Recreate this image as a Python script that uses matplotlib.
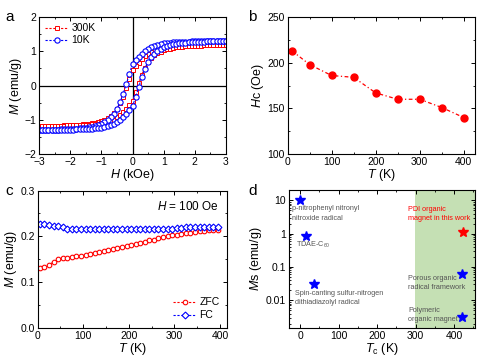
import numpy as np
import matplotlib
matplotlib.use("Agg")
import matplotlib.pyplot as plt
from matplotlib.ticker import MultipleLocator, FixedLocator, FixedFormatter, NullFormatter

plt.rcParams['font.family'] = ['Liberation Sans', 'DejaVu Sans']
plt.rcParams['mathtext.fontset'] = 'custom'
plt.rcParams['mathtext.it'] = 'Liberation Sans:italic'
plt.rcParams['mathtext.rm'] = 'Liberation Sans'

# ---- panel a: M-H loops (field sweep grid, kOe)
H = [-3.0, -2.9, -2.8, -2.7, -2.6, -2.5, -2.4, -2.3, -2.2, -2.1, -2.0, -1.9, -1.8, -1.7, -1.6,
     -1.5, -1.4, -1.3, -1.2, -1.1, -1.0, -0.9, -0.8, -0.7, -0.6, -0.5, -0.4, -0.3, -0.2, -0.1,
     0.0, 0.1, 0.2, 0.3, 0.4, 0.5, 0.6, 0.7, 0.8, 0.9, 1.0, 1.1, 1.2, 1.3, 1.4, 1.5, 1.6, 1.7,
     1.8, 1.9, 2.0, 2.1, 2.2, 2.3, 2.4, 2.5, 2.6, 2.7, 2.8, 2.9, 3.0]

M10_up = [-1.30, -1.30, -1.31, -1.30, -1.30, -1.30, -1.30, -1.29, -1.30, -1.29, -1.29, -1.29, -1.28,
          -1.28, -1.28, -1.27, -1.27, -1.26, -1.25, -1.24, -1.23, -1.21, -1.19, -1.16, -1.12, -1.07,
          -1.00, -0.92, -0.83, -0.72, -0.60, -0.34, -0.04, 0.24, 0.48, 0.68, 0.83, 0.93, 1.01, 1.07,
          1.12, 1.15, 1.18, 1.20, 1.22, 1.23, 1.24, 1.25, 1.26, 1.26, 1.27, 1.27, 1.28, 1.28, 1.29,
          1.29, 1.29, 1.30, 1.30, 1.30, 1.30]
M10_down = [-1.30, -1.30, -1.30, -1.30, -1.29, -1.29, -1.29, -1.28, -1.28, -1.27, -1.27, -1.26, -1.26,
            -1.25, -1.24, -1.23, -1.22, -1.20, -1.18, -1.15, -1.12, -1.07, -1.01, -0.93, -0.83, -0.68,
            -0.48, -0.24, 0.04, 0.34, 0.64, 0.74, 0.84, 0.93, 1.00, 1.07, 1.12, 1.16, 1.19, 1.21,
            1.23, 1.24, 1.25, 1.26, 1.27, 1.27, 1.28, 1.28, 1.28, 1.29, 1.29, 1.30, 1.29, 1.30, 1.30,
            1.30, 1.30, 1.30, 1.31, 1.30, 1.30]
M300_up = [-1.18, -1.18, -1.18, -1.17, -1.18, -1.17, -1.17, -1.17, -1.17, -1.16, -1.16, -1.16, -1.16,
           -1.15, -1.15, -1.14, -1.14, -1.13, -1.12, -1.11, -1.10, -1.08, -1.06, -1.03, -0.99, -0.93,
           -0.86, -0.77, -0.67, -0.56, -0.46, -0.20, 0.08, 0.32, 0.52, 0.68, 0.80, 0.88, 0.94, 0.99,
           1.03, 1.06, 1.08, 1.10, 1.11, 1.12, 1.13, 1.14, 1.15, 1.15, 1.16, 1.16, 1.16, 1.17, 1.17,
           1.17, 1.17, 1.18, 1.18, 1.18, 1.18]
M300_down = [-1.18, -1.18, -1.18, -1.18, -1.17, -1.17, -1.17, -1.17, -1.16, -1.16, -1.16, -1.15, -1.15,
             -1.14, -1.13, -1.12, -1.11, -1.10, -1.08, -1.06, -1.03, -0.99, -0.94, -0.88, -0.80, -0.68,
             -0.52, -0.32, -0.08, 0.20, 0.46, 0.56, 0.67, 0.77, 0.86, 0.93, 0.99, 1.03, 1.06, 1.08,
             1.10, 1.11, 1.12, 1.13, 1.14, 1.14, 1.15, 1.15, 1.16, 1.16, 1.16, 1.17, 1.17, 1.17, 1.17,
             1.17, 1.18, 1.18, 1.18, 1.18, 1.18]

# ---- panel b: coercivity vs T
T_hc = [10, 50, 100, 150, 200, 250, 300, 350, 400]
Hc = [213, 198, 186, 184, 167, 160, 160, 151, 140]

# ---- panel c: ZFC / FC at 100 Oe
T_mt = [5, 15, 25, 35, 45, 55, 65, 75, 85, 95, 105, 115, 125, 135, 145, 155, 165, 175, 185, 195,
        205, 215, 225, 235, 245, 255, 265, 275, 285, 295, 305, 315, 325, 335, 345, 355, 365, 375,
        385, 395]
M_zfc = [0.130, 0.132, 0.138, 0.144, 0.150, 0.152, 0.153, 0.155, 0.157, 0.158, 0.160, 0.162, 0.164,
         0.166, 0.168, 0.170, 0.172, 0.175, 0.177, 0.179, 0.181, 0.183, 0.186, 0.188, 0.191, 0.193,
         0.196, 0.198, 0.200, 0.202, 0.204, 0.206, 0.207, 0.208, 0.210, 0.211, 0.212, 0.213, 0.214,
         0.214]
M_fc = [0.228, 0.226, 0.224, 0.223, 0.223, 0.220, 0.216, 0.216, 0.217, 0.217, 0.217, 0.216, 0.216,
        0.216, 0.216, 0.216, 0.216, 0.216, 0.216, 0.216, 0.215, 0.216, 0.216, 0.216, 0.217, 0.217,
        0.217, 0.217, 0.217, 0.217, 0.218, 0.219, 0.220, 0.220, 0.221, 0.221, 0.221, 0.221, 0.221,
        0.220]

# ---- panel d: Ms vs Tc comparison
Tc_lit = [0, 15, 35, 420, 420]
Ms_lit = [10, 0.84, 0.03, 0.06, 0.0031]
Tc_this = [422]
Ms_this = [1.13]

fig = plt.figure(figsize=(4.89, 3.61), dpi=100)
axa = fig.add_axes([0.080, 0.573, 0.382, 0.380])
axb = fig.add_axes([0.588, 0.573, 0.383, 0.380])
axc = fig.add_axes([0.077, 0.092, 0.387, 0.380])
axd = fig.add_axes([0.590, 0.092, 0.382, 0.381])

def style(ax):
    ax.tick_params(direction='in', which='both', top=True, right=True, labelsize=7.5, pad=2)
    ax.tick_params(which='major', length=3, width=0.7)
    ax.tick_params(which='minor', length=1.5, width=0.6)
    for s in ax.spines.values():
        s.set_linewidth(0.8)

# a
axa.axhline(0, color='k', lw=0.9)
axa.axvline(0, color='k', lw=0.9)
axa.plot(H[::-1] + H, M300_down[::-1] + M300_up, ls=(0, (2, 1.5)), color='red', lw=0.8,
         marker='s', ms=2.8, mfc='white', mec='red', mew=0.7, label='300K')
axa.plot(H[::-1] + H, M10_down[::-1] + M10_up, ls=(0, (2, 1.5)), color='blue', lw=0.8,
         marker='o', ms=3.8, mfc='white', mec='blue', mew=0.8, label='10K')
axa.set_xlim(-3, 3)
axa.set_ylim(-2, 2)
axa.xaxis.set_major_locator(MultipleLocator(1))
axa.xaxis.set_minor_locator(MultipleLocator(0.5))
axa.yaxis.set_major_locator(MultipleLocator(1))
axa.yaxis.set_minor_locator(MultipleLocator(0.5))
axa.set_xlabel('$H$ (kOe)', fontsize=9, labelpad=0)
axa.set_ylabel('$M$ (emu/g)', fontsize=9, labelpad=0)
axa.legend(loc='upper left', frameon=False, fontsize=7.5, handlelength=2.2, handletextpad=0.3,
           borderaxespad=0.2, labelspacing=0.2)
style(axa)

# b
axb.plot(T_hc, Hc, ls=(0, (3, 2, 1, 2)), color='red', lw=0.9, marker='o', ms=5,
         mfc='red', mec='red')
axb.set_xlim(0, 425)
axb.set_ylim(100, 250)
axb.xaxis.set_major_locator(MultipleLocator(100))
axb.xaxis.set_minor_locator(MultipleLocator(50))
axb.yaxis.set_major_locator(MultipleLocator(50))
axb.yaxis.set_minor_locator(MultipleLocator(25))
axb.set_xlabel('$T$ (K)', fontsize=9, labelpad=0)
axb.set_ylabel('$H$c (Oe)', fontsize=9, labelpad=1)
style(axb)

# c
axc.plot(T_mt, M_zfc, ls=(0, (2, 1.5)), color='red', lw=0.8, marker='o', ms=3.3,
         mfc='white', mec='red', mew=0.8, label='ZFC')
axc.plot(T_mt, M_fc, ls=(0, (2, 1.5)), color='blue', lw=0.8, marker='D', ms=3.5,
         mfc='white', mec='blue', mew=0.8, label='FC')
axc.set_xlim(0, 415)
axc.set_ylim(0, 0.3)
axc.xaxis.set_major_locator(MultipleLocator(100))
axc.xaxis.set_minor_locator(MultipleLocator(50))
axc.yaxis.set_major_locator(MultipleLocator(0.1))
axc.yaxis.set_minor_locator(MultipleLocator(0.05))
axc.set_xlabel('$T$ (K)', fontsize=9, labelpad=0)
axc.set_ylabel('$M$ (emu/g)', fontsize=9, labelpad=1)
axc.text(0.96, 0.93, '$H$ = 100 Oe', transform=axc.transAxes, ha='right', va='top', fontsize=8.5)
axc.legend(loc='lower right', frameon=False, fontsize=7.5, handlelength=2.2, handletextpad=0.3,
           borderaxespad=0.3, labelspacing=0.3)
style(axc)

# d
axd.axvspan(298, 455, color='#c5e0b4', lw=0, zorder=0)
axd.plot(Tc_lit, Ms_lit, ls='none', marker='*', ms=7, color='blue')
axd.plot(Tc_this, Ms_this, ls='none', marker='*', ms=7, color='red')
axd.set_yscale('log')
axd.set_xlim(-30, 455)
axd.set_ylim(0.0015, 20)
axd.xaxis.set_major_locator(MultipleLocator(100))
axd.xaxis.set_minor_locator(MultipleLocator(50))
axd.yaxis.set_major_locator(FixedLocator([0.01, 0.1, 1, 10]))
axd.yaxis.set_major_formatter(FixedFormatter(['0.01', '0.1', '1', '10']))
axd.yaxis.set_minor_formatter(NullFormatter())
axd.set_xlabel('$T$$_\\mathregular{c}$ (K)', fontsize=9, labelpad=0)
axd.set_ylabel('$M$s (emu/g)', fontsize=9, labelpad=1)
gray = '#555555'
fs = 5.2
axd.text(-22, 4.0, 'p-nitrophenyl nitronyl\nnitroxide radical', fontsize=fs, color=gray,
         va='center', linespacing=1.5)
axd.text(-10, 0.45, 'TDAE-C$_{60}$', fontsize=fs, color=gray, va='center')
axd.text(-13, 0.0117, 'Spin-canting sulfur-nitrogen\ndithiadiazolyl radical', fontsize=fs,
         color=gray, va='center', linespacing=1.5)
axd.text(280, 3.9, 'PDI organic\nmagnet in this work', fontsize=fs, color='red', va='center',
         linespacing=1.5)
axd.text(280, 0.033, 'Porous organic\nradical framework', fontsize=fs, color=gray, va='center',
         linespacing=1.5)
axd.text(280, 0.0036, 'Polymeric\norganic magnet', fontsize=fs, color=gray, va='center',
         linespacing=1.5)
style(axd)

for lab, x, y in [('a', 0.012, 0.972), ('b', 0.508, 0.972), ('c', 0.012, 0.490), ('d', 0.508, 0.490)]:
    fig.text(x, y, lab, fontsize=11, va='top')

fig.savefig('out.png', dpi=100)
